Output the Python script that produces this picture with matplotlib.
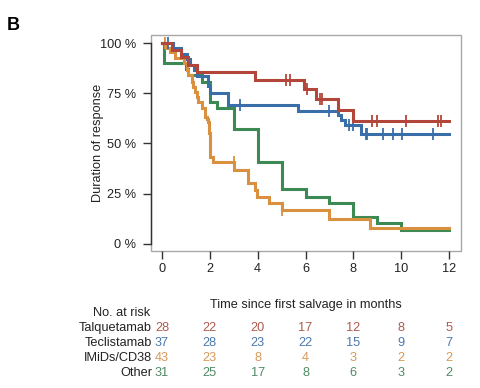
import numpy as np
import matplotlib
matplotlib.use("Agg")
import matplotlib.pyplot as plt
from matplotlib.patches import Rectangle
from matplotlib.transforms import blended_transform_factory

plt.rcParams['font.family'] = ['Liberation Sans', 'DejaVu Sans']

# Kaplan-Meier step data (months, % response ongoing)
talq_t = [0, 0.4, 0.8, 1.1, 1.45, 3.9, 5.95, 6.45, 7.35, 8.0, 12]
talq_s = [100, 96.4, 92.9, 89.3, 85.7, 81.6, 77.1, 72.1, 66.7, 61.2, 61.2]
talq_cens = [5.2, 5.35, 6.05, 6.6, 6.7, 8.8, 9.0, 10.2, 11.55, 11.65]

tecl_t = [0, 0.47, 0.8, 1.05, 1.17, 1.35, 1.45, 1.94, 2.0, 2.75, 5.68, 7.36, 7.5, 7.65, 8.33, 12]
tecl_s = [100, 97.3, 94.6, 91.9, 89.2, 86.5, 83.8, 78.4, 75.0, 69.2, 66.2, 64.2, 61.7, 59.2, 54.6, 54.6]
tecl_cens = [0.27, 3.25, 7.0, 7.82, 8.0, 8.52, 8.57, 9.23, 9.64, 10.05, 11.31]

imid_t = [0, 0.15, 0.35, 0.54, 0.9, 1.03, 1.1, 1.24, 1.31, 1.38, 1.45, 1.52, 1.66, 1.8, 1.87,
          1.94, 1.96, 1.98, 1.99, 2.0, 2.01, 2.02, 2.15, 3.03, 3.61, 3.89, 3.99, 4.48, 5.0,
          7.0, 8.7, 12]
imid_s = [100, 97.7, 95.3, 92.6, 90.0, 86.7, 84.0, 80.8, 78.0, 75.5, 73.3, 70.8, 67.5, 63.3, 62.0,
          60.8, 58.0, 55.1, 52.0, 49.0, 46.0, 43.4, 41.0, 36.8, 30.2, 26.9, 23.5, 20.2, 16.9,
          12.4, 8.1, 8.1]
imid_cens = [0.12, 3.0, 5.02]

other_t = [0, 0.1, 1.0, 1.1, 1.66, 2.0, 2.29, 3.03, 4.03, 5.0, 6.0, 7.0, 8.0, 9.0, 10.0, 12]
other_s = [100, 90.3, 87.1, 83.9, 80.6, 70.5, 67.5, 57.0, 41.0, 27.2, 23.4, 20.2, 13.4, 10.2, 7.0, 7.0]
other_cens = []

# number at risk table
risk_times = [0, 2, 4, 6, 8, 10, 12]
groups = ["Talquetamab", "Teclistamab", "IMiDs/CD38", "Other"]
risk_talq = [28, 22, 20, 17, 12, 8, 5]
risk_tecl = [37, 28, 23, 22, 15, 9, 7]
risk_imid = [43, 23, 8, 4, 3, 2, 2]
risk_other = [31, 25, 17, 8, 6, 3, 2]

colors = ["#b3463a", "#3a6ea9", "#d9913f", "#3d8954"]
text_colors = ["#b05a4c", "#4a78ad", "#d49a58", "#4f8a66"]


def step_value(t, times, surv):
    i = np.searchsorted(times, t, side='right') - 1
    return surv[i]


fig = plt.figure(figsize=(4.81, 3.88), dpi=100)
ax = fig.add_axes([0.3139, 0.3531, 0.6445, 0.5567])

curves = [
    (other_t, other_s, other_cens, colors[3]),
    (imid_t, imid_s, imid_cens, colors[2]),
    (tecl_t, tecl_s, tecl_cens, colors[1]),
    (talq_t, talq_s, talq_cens, colors[0]),
]
for times, surv, cens, col in curves:
    ax.step(times, surv, where='post', color=col, lw=2.2, solid_joinstyle='miter')
    if cens:
        cy = [step_value(c, times, surv) for c in cens]
        ax.plot(cens, cy, ls='none', marker='|', ms=8, mew=1.3, color=col)

ax.set_xlim(-0.46, 12.5)
ax.set_ylim(-3.5, 104)
ax.set_xticks(risk_times)
ax.set_yticks([0, 25, 50, 75, 100])
ax.set_yticklabels(["0 %", "25 %", "50 %", "75 %", "100 %"])

for s in ['top', 'right', 'bottom']:
    ax.spines[s].set_visible(False)
ax.add_patch(Rectangle((0, 0), 1, 1, transform=ax.transAxes, fill=False,
                       ec='#a8a8a8', lw=1.0, clip_on=False, zorder=0))
ax.spines['left'].set_bounds(0, 100)
ax.spines['left'].set_color('#333333')
ax.spines['left'].set_linewidth(1.0)

fs = 9.2
ax.tick_params(axis='both', direction='out', length=5.5, width=1.0, color='#333333',
               labelsize=fs, labelcolor='#222222')
ax.tick_params(axis='x', pad=3)
ax.tick_params(axis='y', pad=5)

ax.set_ylabel("Duration of response", fontsize=fs, color='#222222')
ax.yaxis.set_label_coords(-0.171, 0.5)
ax.yaxis.label.set_va('center')
ax.set_xlabel("Time since first salvage in months", fontsize=fs, color='#222222')
ax.xaxis.set_label_coords(0.5, -0.25)
ax.xaxis.label.set_va('center')

fig.text(7 / 481, 1 - 26 / 388, "B", fontsize=13, fontweight='bold', va='center', ha='left')

# risk table
tr = blended_transform_factory(ax.transData, fig.transFigure)
fig.text(-0.5, 1 - 313 / 388, "No. at risk", transform=tr, ha='right', va='center',
         fontsize=fs, color='#222222')
row_y = [328, 343, 358, 373]
risk_rows = [risk_talq, risk_tecl, risk_imid, risk_other]
for name, vals, py, col in zip(groups, risk_rows, row_y, text_colors):
    yf = 1 - py / 388
    fig.text(-0.42, yf, name, transform=tr, ha='right', va='center', fontsize=fs, color='#222222')
    for t, v in zip(risk_times, vals):
        fig.text(t, yf, str(v), transform=tr, ha='center', va='center', fontsize=fs, color=col)

fig.savefig("out.png", dpi=100)
